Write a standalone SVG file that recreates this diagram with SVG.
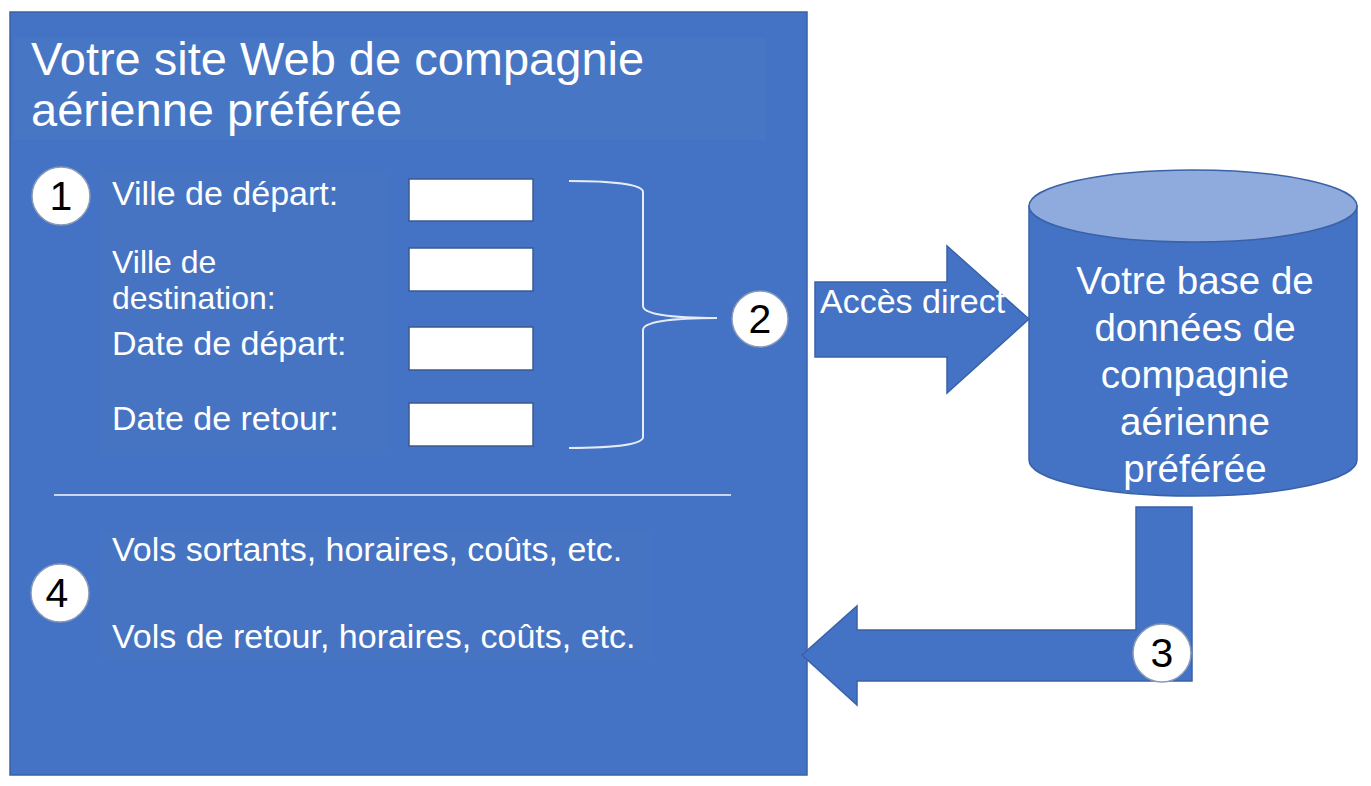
<svg xmlns="http://www.w3.org/2000/svg" width="1371" height="786" viewBox="0 0 1371 786">
<style>
.t{font-family:"Liberation Sans",Arial,sans-serif;fill:#ffffff}
.num{font-family:"Liberation Sans",Arial,sans-serif;fill:#000000;font-size:41px;text-anchor:middle}
.badge{fill:#ffffff;stroke:#8a9bb8;stroke-width:1.5}
.input{fill:#ffffff;stroke:#3b5a8f;stroke-width:1.5}
.blue{fill:#4472C4;stroke:#3a62a8;stroke-width:1.5}
</style>
<rect width="1371" height="786" fill="#ffffff"/>
<g id="website">
<rect x="10" y="12" width="797" height="763" class="blue"/>
<rect x="14" y="38" width="752" height="102" fill="#4776c4"/>
<text class="t" x="31" y="75" font-size="47">Votre site Web de compagnie</text>
<text class="t" x="31" y="126" font-size="47">aérienne préférée</text>
<rect x="100" y="170" width="290" height="285" fill="#4674c3"/>
<text class="t" x="112" y="205" font-size="34">Ville de départ:</text>
<text class="t" x="112" y="273" font-size="32">Ville de</text>
<text class="t" x="112" y="309" font-size="32">destination:</text>
<text class="t" x="112" y="355" font-size="34">Date de départ:</text>
<text class="t" x="112" y="430" font-size="34">Date de retour:</text>
<rect x="409" y="179" width="124" height="42" class="input"/>
<rect x="409" y="248" width="124" height="43" class="input"/>
<rect x="409" y="327" width="124" height="43" class="input"/>
<rect x="409" y="403" width="124" height="43" class="input"/>
<path d="M569 181 C610 181 643 184 643 192 L643 306 C643 314 670 318 717 318 C670 318 643 322 643 330 L643 437 C643 445 610 448 569 448" fill="none" stroke="#e6ecf7" stroke-width="2"/>
<line x1="54" y1="495" x2="731" y2="495" stroke="#c9d6ee" stroke-width="2"/>
<rect x="100" y="530" width="550" height="130" fill="#4674c3"/>
<text class="t" x="112" y="561" font-size="34">Vols sortants, horaires, coûts, etc.</text>
<text class="t" x="112" y="648" font-size="34">Vols de retour, horaires, coûts, etc.</text>
</g>
<g id="database">
<path d="M1029 206 L1029 460 A164 36 0 0 0 1357 460 L1357 206 Z" class="blue"/>
<ellipse cx="1193" cy="206" rx="164" ry="36" fill="#8FAADC" stroke="#3a62a8" stroke-width="1.5"/>
<g class="t" font-size="38.5" text-anchor="middle">
<text x="1195" y="294">Votre base de</text>
<text x="1195" y="341">données de</text>
<text x="1195" y="388">compagnie</text>
<text x="1195" y="435">aérienne</text>
<text x="1195" y="482">préférée</text>
</g>
</g>
<g id="connectors">
<path d="M815 282 L947 282 L947 246 L1029 319 L947 393 L947 357 L815 357 Z" class="blue"/>
<text class="t" x="820" y="313" font-size="34">Accès direct</text>
<path d="M1136 507 L1192 507 L1192 681 L857 681 L857 705 L802 655 L857 606 L857 630 L1136 630 Z" class="blue"/>
</g>
<g id="badge1"><circle cx="61" cy="196" r="29" class="badge"/><text class="num" x="61" y="210">1</text></g>
<g id="badge2"><circle cx="760" cy="319" r="28" class="badge"/><text class="num" x="760" y="333">2</text></g>
<g id="badge3"><circle cx="1162" cy="653" r="29" class="badge"/><text class="num" x="1162" y="667">3</text></g>
<g id="badge4"><circle cx="60" cy="593" r="29" class="badge"/><text class="num" x="57" y="607">4</text></g>
</svg>
